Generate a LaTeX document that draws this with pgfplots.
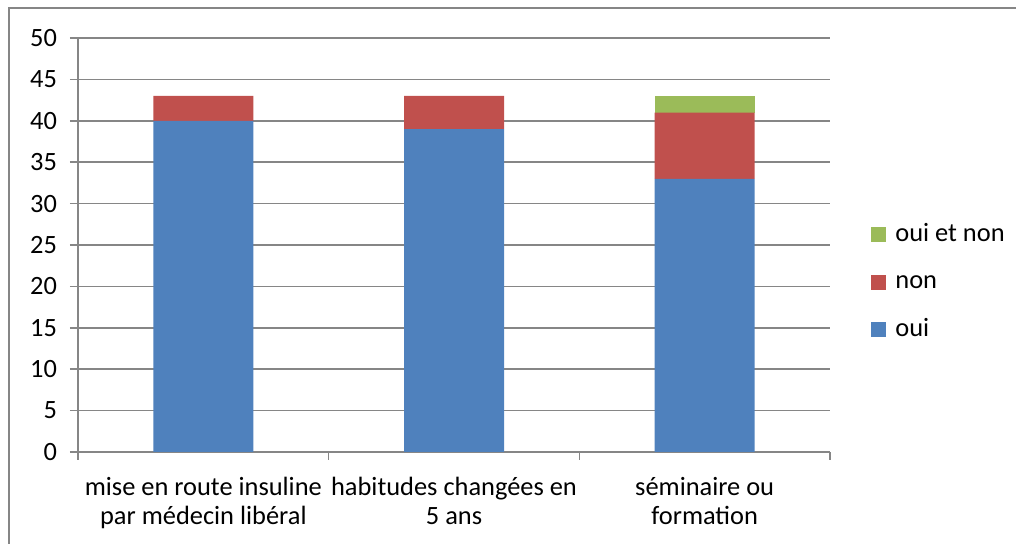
\documentclass[border=0pt]{standalone}
\usepackage{pgfplots}
\pgfplotsset{compat=1.18}
\usepackage{fontspec}
\setmainfont{Carlito}
\definecolor{cblue}{HTML}{4F81BD}
\definecolor{cred}{HTML}{C0504D}
\definecolor{cgreen}{HTML}{9BBB59}
\definecolor{cgrid}{HTML}{868686}
\begin{document}
\begin{tikzpicture}
\useasboundingbox (0,0) rectangle (508pt,272pt);
\draw[cgrid, line width=0.6pt] (4.5pt,0) -- (4.5pt,268pt) -- (508pt,268pt);
\begin{axis}[
  at={(39pt,46pt)}, anchor=south west,
  scale only axis, width=376pt, height=207pt,
  xmin=-0.5, xmax=2.5, ymin=0, ymax=50,
  ybar stacked, bar width=50pt,
  axis x line*=bottom, axis y line*=left,
  axis line style={cgrid, line width=0.75pt, -},
  ytick={0,5,...,50},
  ymajorgrids, grid style={cgrid, line width=0.75pt},
  xtick={-0.5,0.5,1.5,2.5}, xticklabels={},
  extra x ticks={0,1,2},
  extra x tick labels={{mise en route insuline\\par médecin libéral},{habitudes changées en\\5 ans},{séminaire ou\\formation}},
  extra x tick style={major tick length=0pt, tick style={draw=none}, grid=none},
  xticklabel style={align=center, yshift=-9pt},
  tick align=outside, major tick length=4pt,
  tick style={cgrid, line width=0.75pt},
  ticklabel style={font=\fontsize{13.2}{14.5}\selectfont},
  /pgf/number format/assume math mode=true,
  yticklabel style={xshift=-3pt},
  reverse legend,
  legend style={draw=none, fill=none, at={(1.0545,0.41)}, anchor=west, inner sep=0pt,
    font=\fontsize{13.2}{14.5}\selectfont, row sep=10.3pt,
    nodes={inner sep=1pt, text height=9pt, text depth=2.5pt},
    /tikz/every odd column/.append style={column sep=3.5pt}},
  legend cell align=left,
  legend image code/.code={\fill[#1,draw=none] (0pt,-3.75pt) rectangle (7.5pt,3.75pt);},
]
\addplot[fill=cblue, draw=none] coordinates {(0,40) (1,39) (2,33)};
\addplot[fill=cred, draw=none] coordinates {(0,3) (1,4) (2,8)};
\addplot[fill=cgreen, draw=none] coordinates {(0,0) (1,0) (2,2)};
\legend{oui, non, oui et non}
\end{axis}
\end{tikzpicture}
\end{document}
